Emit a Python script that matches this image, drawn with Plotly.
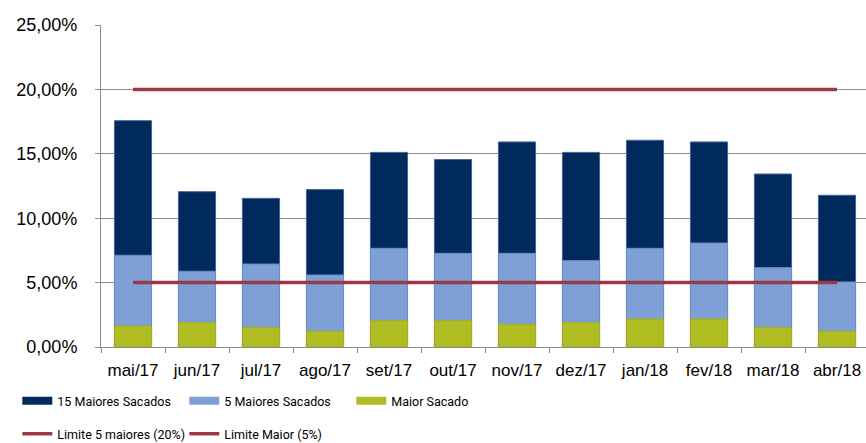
import plotly.graph_objects as go

meses = ["mai/17", "jun/17", "jul/17", "ago/17", "set/17", "out/17",
         "nov/17", "dez/17", "jan/18", "fev/18", "mar/18", "abr/18"]
maiores_15 = [0.1757, 0.1206, 0.1154, 0.1222, 0.1511, 0.1455,
              0.1592, 0.1511, 0.1605, 0.1592, 0.1343, 0.1178]
maiores_5 = [0.0712, 0.0588, 0.0644, 0.0559, 0.0766, 0.0727,
             0.0727, 0.0670, 0.0766, 0.0807, 0.0616, 0.0505]
maior = [0.0163, 0.0189, 0.0150, 0.0122, 0.0204, 0.0204,
         0.0176, 0.0189, 0.0217, 0.0217, 0.0150, 0.0122]
limite_5_maiores = [0.20] * 12
limite_maior = [0.05] * 12

C_NAVY = "#002A5C"
C_LIGHT = "#7FA0D4"
C_GREEN = "#B0BD23"
C_RED = "#9A3A47"

fig = go.Figure()
bar_specs = [
    ("15 Maiores Sacados", maiores_15, C_NAVY, "#46638f"),
    ("5 Maiores Sacados", maiores_5, C_LIGHT, "#6f8fc4"),
    ("Maior Sacado", maior, C_GREEN, "#a3b01c"),
]
for name, vals, col, edge in bar_specs:
    fig.add_trace(go.Bar(x=meses, y=vals, name=name, marker_color=col,
                         marker_line=dict(color=edge, width=1),
                         width=0.58, showlegend=False))

for name, vals in [("Limite 5 maiores (20%)", limite_5_maiores),
                   ("Limite Maior (5%)", limite_maior)]:
    fig.add_trace(go.Scatter(x=meses, y=vals, mode="lines", name=name,
                             line=dict(color=C_RED, width=3.5),
                             showlegend=False, hoverinfo="skip"))

# legend entries
for name, _, col, _ in bar_specs:
    fig.add_trace(go.Scatter(x=[None], y=[None], mode="lines", name=name,
                             line=dict(color=col, width=8), legend="legend"))
for name in ["Limite 5 maiores (20%)", "Limite Maior (5%)"]:
    fig.add_trace(go.Scatter(x=[None], y=[None], mode="lines", name=name,
                             line=dict(color=C_RED, width=3.5), legend="legend2"))

legend_font = dict(family="Roboto", size=12.5, color="#000000")
fig.update_layout(
    width=866, height=443,
    margin=dict(l=101, r=0, t=25, b=96),
    paper_bgcolor="white", plot_bgcolor="white",
    barmode="overlay",
    separators=", ",
    font=dict(family="Liberation Sans", size=17, color="#000000"),
    legend=dict(orientation="h", xref="container", yref="container",
                x=0.020, y=1 - 401 / 443, xanchor="left", yanchor="middle",
                entrywidth=122, entrywidthmode="pixels",
                font=legend_font, bgcolor="rgba(0,0,0,0)"),
    legend2=dict(orientation="h", xref="container", yref="container",
                 x=0.020, y=1 - 434 / 443, xanchor="left", yanchor="middle",
                 entrywidth=122, entrywidthmode="pixels",
                 font=legend_font, bgcolor="rgba(0,0,0,0)"),
    xaxis=dict(range=[-0.5, 11.453], showgrid=False, showline=True,
               linecolor="#8c8c8c", linewidth=1, ticks="outside",
               tickson="boundaries", ticklen=5, tickcolor="#8c8c8c",
               ticklabelstandoff=8, tickfont=dict(size=17), automargin=False),
    yaxis=dict(range=[0, 0.25], dtick=0.05, tickformat=".2%",
               showgrid=True, gridcolor="#8c8c8c", gridwidth=1,
               showline=True, linecolor="#8c8c8c", linewidth=1,
               ticks="outside", ticklen=5, tickcolor="#8c8c8c",
               ticklabelstandoff=14, tickfont=dict(size=18), zeroline=False,
               automargin=False),
)

fig.write_html("out.html", config={"displayModeBar": False},
               post_script="document.body.style.margin='0';document.body.style.overflow='hidden';")
